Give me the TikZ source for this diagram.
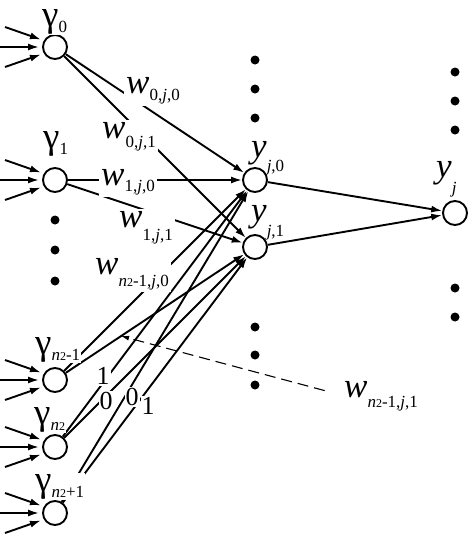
\documentclass[tikz,border=0pt]{standalone}
\usepackage{fontspec}
\setmainfont{Liberation Serif}
\usetikzlibrary{arrows.meta, positioning, calc}
\newcommand{\bigf}{\fontsize{35}{35}\selectfont}
\newcommand{\gamf}{\fontsize{37}{37}\selectfont}
\newcommand{\subf}{\fontsize{17}{17}\selectfont}
\newcommand{\digf}{\fontsize{26}{26}\selectfont}
\newcommand{\ntwo}{\textit{n}{\fontsize{12}{12}\selectfont 2}}
\newcommand{\jj}{\textit{j}}
% letter with a lowered index
\newcommand{\idx}[3]{{\bigf #1}\raisebox{-#2pt}{\subf #3}}
\newcommand{\gidx}[2]{{\gamf γ}\raisebox{-#1pt}{\subf #2}}
\tikzset{
  neuron/.style={circle, draw, line width=1.9pt, minimum size=24pt, inner sep=0pt},
  dotn/.style={circle, fill=black, minimum size=9pt, inner sep=0pt},
  conn/.style={line width=1.9pt, -{Latex[length=11pt, width=7pt]}},
  lab/.style={inner sep=0pt, anchor=base west},
  glab/.style={fill=white, inner sep=1pt, anchor=base west},
  wlab/.style={fill=white, inner sep=2pt, anchor=base west},
  dlab/.style={fill=white, inner sep=1pt, font=\digf},
}
\begin{document}
\begin{tikzpicture}[x=1pt, y=-1pt]
    \useasboundingbox (0,0) rectangle (470,536);
    % neurons
    \node[neuron] (g0) at (55,47) {};
    \node[neuron] (g1) at (55,180) {};
    \node[neuron] (gA) at (55,380) {};
    \node[neuron] (gB) at (55,447) {};
    \node[neuron] (gC) at (55,513) {};
    \node[neuron] (y0) at (255,180) {};
    \node[neuron] (y1) at (255,247) {};
    \node[neuron] (yj) at (455,213) {};
    % dots
    \foreach \yy in {220,250,281} \node[dotn] at (55,\yy) {};
    \foreach \yy in {60,89,118,327,355,385} \node[dotn] at (255,\yy) {};
    \foreach \yy in {72,101,130,288,317} \node[dotn] at (455,\yy) {};
    % inputs
    \foreach \n in {g0,g1,gA,gB,gC} {
        \draw[conn, shorten >=3pt] ([shift={(-50,-20)}]\n.center) -- (\n.150);
        \draw[conn, shorten >=3pt] ([shift={(-56,0)}]\n.center) -- (\n.180);
        \draw[conn, shorten >=3pt] ([shift={(-50,20)}]\n.center) -- (\n.210);
    }
    % weights
    \draw[conn] (g0) -- (y0);
    \draw[conn] (g0) -- (y1);
    \draw[conn] (g1) -- (y0);
    \draw[conn] (g1) -- (y1);
    \draw[conn] (gA) -- (y0);
    \draw[conn] (gA) -- coordinate[pos=0.31] (pA1) (y1);
    \draw[conn] (gB) -- (y0);
    \draw[conn] (gB) -- (y1);
    \draw[conn] (gC) -- (y0);
    \draw[conn] (gC) -- (y1);
    \draw[conn] (y0) -- (yj);
    \draw[conn] (y1) -- (yj);
    % labels
    \node[glab] (lg0) at (41,26) {\gidx{6}{0}};
    \node[glab] (lg1) at (42,148) {\gidx{6}{1}};
    \node[glab] (lgA) at (34,354) {\gidx{6}{\ntwo-1}};
    \node[glab] (lgB) at (33,424) {\gidx{6}{\ntwo}};
    \node[glab] (lgC) at (34,491) {\gidx{6}{\ntwo+1}};
    \node[lab] (ly0) at (251,157) {\idx{\textit{y}}{14}{\jj,0}};
    \node[lab] (ly1) at (251,221) {\idx{\textit{y}}{15}{\jj,1}};
    \node[lab] (lyj) at (436,177) {\idx{\textit{y}}{16}{\jj}};
    \node[wlab] (w00) at (124,93) {\idx{\textit{w}}{7}{0,\jj,0}};
    \node[wlab] (w01) at (100,138) {\idx{\textit{w}}{9}{0,\jj,1}};
    \node[wlab] (w10) at (99,185) {\idx{\textit{w}}{6}{1,\jj,0}};
    \node[wlab] (w11) at (117,227) {\idx{\textit{w}}{13}{1,\jj,1}};
    \node[wlab] (wA0) at (93,274) {\idx{\textit{w}}{12}{\ntwo-1,\jj,0}};
    \node[lab] (wA1) at (344,397) {\idx{\textit{w}}{10}{\ntwo-1,\jj,1}};
    \node[dlab] (dB0) at (103,376) {1};
    \node[dlab] (dB1) at (106,401) {0};
    \node[dlab] (dC0) at (132,397) {0};
    \node[dlab] (dC1) at (148,406) {1};
    \draw[line width=1.1pt, dash pattern=on 11pt off 6pt, -{Latex[length=8pt, width=5pt]}, shorten <=20pt] (wA1.west) -- (pA1);
\end{tikzpicture}
\end{document}
